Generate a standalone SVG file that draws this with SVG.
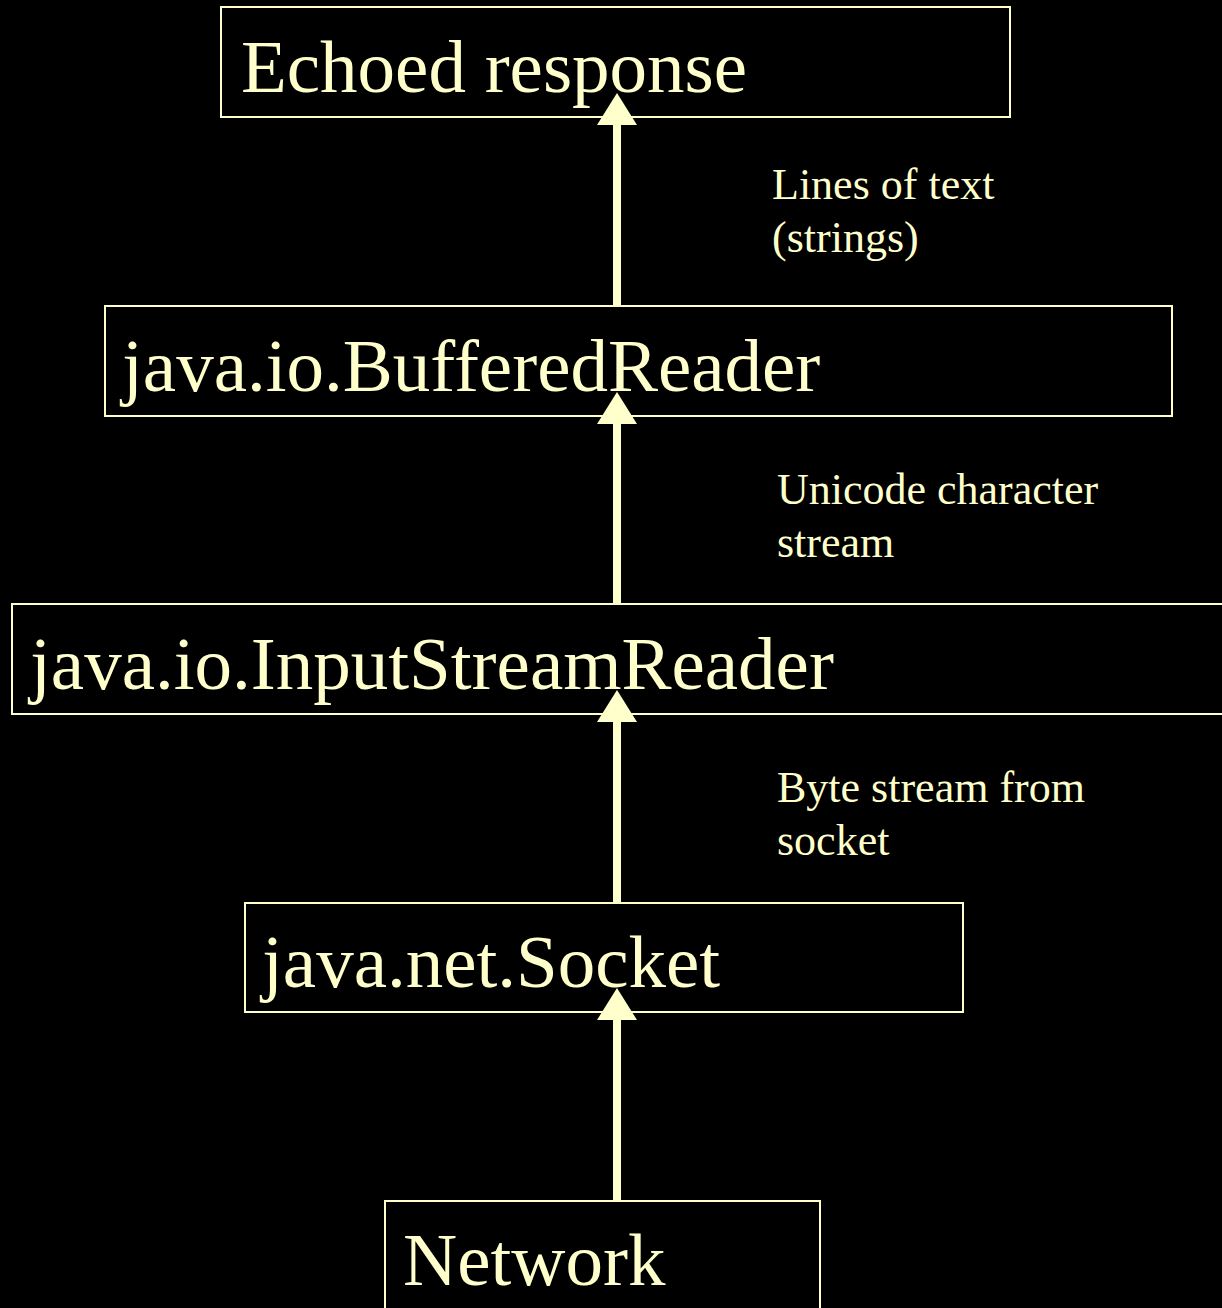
<svg xmlns="http://www.w3.org/2000/svg" width="1222" height="1308" viewBox="0 0 1222 1308">
<style>
.box{fill:none;stroke:#FFFFCC;stroke-width:2}
.big{font-family:"Liberation Serif","Times New Roman",serif;font-size:75px;fill:#FFFFCC}
.lbl{font-family:"Liberation Serif","Times New Roman",serif;font-size:44px;fill:#FFFFCC}
.ln{stroke:#FFFFCC;stroke-width:8;fill:none}
.ah{fill:#FFFFCC}
</style>
<rect width="1222" height="1308" fill="#000000"/>
<g id="echoed">
<rect class="box" x="221" y="7" width="789" height="110"/>
<text class="big" x="241" y="92">Echoed response</text>
</g>
<g id="buffered">
<rect class="box" x="105" y="306" width="1067" height="110"/>
<text class="big" x="122" y="391">java.io.BufferedReader</text>
</g>
<g id="inputstream">
<rect class="box" x="12" y="604" width="1230" height="110"/>
<text class="big" x="30" y="689">java.io.InputStreamReader</text>
</g>
<g id="socket">
<rect class="box" x="245" y="903" width="718" height="109"/>
<text class="big" x="262" y="987">java.net.Socket</text>
</g>
<g id="network">
<rect class="box" x="385" y="1201" width="435" height="120"/>
<text class="big" x="403" y="1285">Network</text>
</g>
<g id="connectors">
<line class="ln" x1="617" y1="306" x2="617" y2="120"/>
<polygon class="ah" points="617,93 597,125 637,125"/>
<line class="ln" x1="617" y1="604" x2="617" y2="419"/>
<polygon class="ah" points="617,392 597,424 637,424"/>
<line class="ln" x1="617" y1="903" x2="617" y2="717"/>
<polygon class="ah" points="617,690 597,722 637,722"/>
<line class="ln" x1="617" y1="1201" x2="617" y2="1015"/>
<polygon class="ah" points="617,988 597,1020 637,1020"/>
</g>
<g id="labels">
<text class="lbl" x="772" y="199">Lines of text</text>
<text class="lbl" x="772" y="252">(strings)</text>
<text class="lbl" x="777" y="504">Unicode character</text>
<text class="lbl" x="777" y="557">stream</text>
<text class="lbl" x="777" y="802">Byte stream from</text>
<text class="lbl" x="777" y="855">socket</text>
</g>
</svg>
